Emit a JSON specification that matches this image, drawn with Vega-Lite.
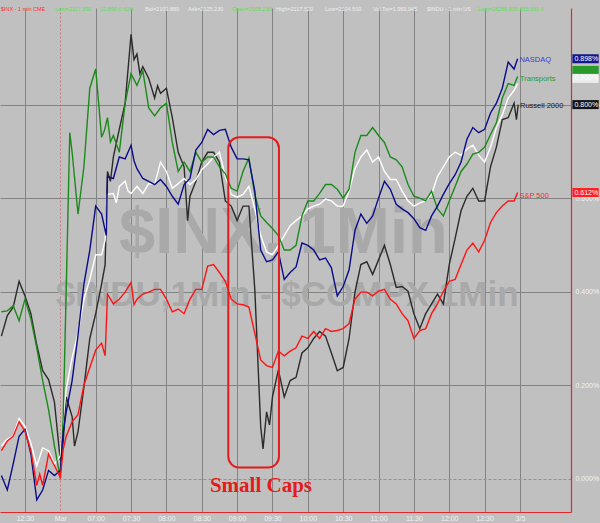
{
"$schema": "https://vega.github.io/schema/vega-lite/v6.json",
"width": 571, "height": 504,
"autosize": {"type": "none"},
"padding": {"left": 0, "top": 8, "right": 29, "bottom": 11},
"background": "#c0c0c0",
"config": {"view": {"stroke": null}, "font": "Liberation Sans"},
"resolve": {"scale": {"color": "independent"}},
"datasets": {
"series": [
{"s":"Russell 2000","t":-20,"v":0.305},{"s":"Russell 2000","t":-15,"v":0.349},{"s":"Russell 2000","t":-10,"v":0.367},{"s":"Russell 2000","t":-5,"v":0.422},{"s":"Russell 2000","t":0,"v":0.391},{"s":"Russell 2000","t":5,"v":0.353},{"s":"Russell 2000","t":10,"v":0.286},{"s":"Russell 2000","t":15,"v":0.231},{"s":"Russell 2000","t":20,"v":0.212},{"s":"Russell 2000","t":25,"v":0.164},{"s":"Russell 2000","t":30,"v":0.039},{"s":"Russell 2000","t":32.5,"v":0.081},{"s":"Russell 2000","t":35,"v":0.175},{"s":"Russell 2000","t":40,"v":0.133},{"s":"Russell 2000","t":42,"v":0.070},{"s":"Russell 2000","t":45,"v":0.101},{"s":"Russell 2000","t":50,"v":0.196},{"s":"Russell 2000","t":55,"v":0.300},{"s":"Russell 2000","t":60,"v":0.353},{"s":"Russell 2000","t":65,"v":0.416},{"s":"Russell 2000","t":68,"v":0.458},{"s":"Russell 2000","t":70,"v":0.657},{"s":"Russell 2000","t":72.5,"v":0.636},{"s":"Russell 2000","t":75,"v":0.688},{"s":"Russell 2000","t":80,"v":0.747},{"s":"Russell 2000","t":85,"v":0.803},{"s":"Russell 2000","t":90,"v":0.950},{"s":"Russell 2000","t":92.5,"v":0.896},{"s":"Russell 2000","t":95,"v":0.908},{"s":"Russell 2000","t":97.5,"v":0.866},{"s":"Russell 2000","t":100,"v":0.881},{"s":"Russell 2000","t":105,"v":0.856},{"s":"Russell 2000","t":110,"v":0.814},{"s":"Russell 2000","t":112.5,"v":0.840},{"s":"Russell 2000","t":115,"v":0.824},{"s":"Russell 2000","t":120,"v":0.835},{"s":"Russell 2000","t":125,"v":0.772},{"s":"Russell 2000","t":130,"v":0.698},{"s":"Russell 2000","t":135,"v":0.667},{"s":"Russell 2000","t":138,"v":0.552},{"s":"Russell 2000","t":140,"v":0.604},{"s":"Russell 2000","t":145,"v":0.636},{"s":"Russell 2000","t":150,"v":0.677},{"s":"Russell 2000","t":155,"v":0.698},{"s":"Russell 2000","t":160,"v":0.698},{"s":"Russell 2000","t":165,"v":0.677},{"s":"Russell 2000","t":170,"v":0.594},{"s":"Russell 2000","t":175,"v":0.583},{"s":"Russell 2000","t":180,"v":0.552},{"s":"Russell 2000","t":185,"v":0.583},{"s":"Russell 2000","t":190,"v":0.583},{"s":"Russell 2000","t":195,"v":0.405},{"s":"Russell 2000","t":200,"v":0.112},{"s":"Russell 2000","t":202,"v":0.064},{"s":"Russell 2000","t":205,"v":0.143},{"s":"Russell 2000","t":207.5,"v":0.115},{"s":"Russell 2000","t":210,"v":0.175},{"s":"Russell 2000","t":215,"v":0.233},{"s":"Russell 2000","t":220,"v":0.175},{"s":"Russell 2000","t":225,"v":0.210},{"s":"Russell 2000","t":230,"v":0.217},{"s":"Russell 2000","t":235,"v":0.269},{"s":"Russell 2000","t":240,"v":0.280},{"s":"Russell 2000","t":245,"v":0.300},{"s":"Russell 2000","t":250,"v":0.315},{"s":"Russell 2000","t":255,"v":0.305},{"s":"Russell 2000","t":260,"v":0.269},{"s":"Russell 2000","t":265,"v":0.231},{"s":"Russell 2000","t":270,"v":0.238},{"s":"Russell 2000","t":275,"v":0.300},{"s":"Russell 2000","t":280,"v":0.399},{"s":"Russell 2000","t":285,"v":0.458},{"s":"Russell 2000","t":290,"v":0.464},{"s":"Russell 2000","t":295,"v":0.437},{"s":"Russell 2000","t":300,"v":0.468},{"s":"Russell 2000","t":305,"v":0.499},{"s":"Russell 2000","t":310,"v":0.458},{"s":"Russell 2000","t":315,"v":0.409},{"s":"Russell 2000","t":320,"v":0.411},{"s":"Russell 2000","t":325,"v":0.401},{"s":"Russell 2000","t":330,"v":0.353},{"s":"Russell 2000","t":335,"v":0.321},{"s":"Russell 2000","t":340,"v":0.353},{"s":"Russell 2000","t":345,"v":0.374},{"s":"Russell 2000","t":350,"v":0.395},{"s":"Russell 2000","t":355,"v":0.374},{"s":"Russell 2000","t":360,"v":0.458},{"s":"Russell 2000","t":365,"v":0.514},{"s":"Russell 2000","t":370,"v":0.573},{"s":"Russell 2000","t":375,"v":0.604},{"s":"Russell 2000","t":380,"v":0.621},{"s":"Russell 2000","t":385,"v":0.594},{"s":"Russell 2000","t":390,"v":0.594},{"s":"Russell 2000","t":395,"v":0.667},{"s":"Russell 2000","t":400,"v":0.709},{"s":"Russell 2000","t":405,"v":0.768},{"s":"Russell 2000","t":410,"v":0.772},{"s":"Russell 2000","t":415,"v":0.803},{"s":"Russell 2000","t":417,"v":0.768},{"s":"Russell 2000","t":418.5,"v":0.800},
{"s":"Dow","t":-20,"v":0.070},{"s":"Dow","t":-15,"v":0.085},{"s":"Dow","t":-10,"v":0.091},{"s":"Dow","t":-5,"v":0.129},{"s":"Dow","t":0,"v":0.112},{"s":"Dow","t":5,"v":0.076},{"s":"Dow","t":10,"v":0.028},{"s":"Dow","t":15,"v":0.066},{"s":"Dow","t":20,"v":0.060},{"s":"Dow","t":25,"v":0.032},{"s":"Dow","t":30,"v":0.049},{"s":"Dow","t":32.5,"v":0.133},{"s":"Dow","t":35,"v":0.192},{"s":"Dow","t":40,"v":0.259},{"s":"Dow","t":45,"v":0.311},{"s":"Dow","t":50,"v":0.384},{"s":"Dow","t":55,"v":0.426},{"s":"Dow","t":60,"v":0.479},{"s":"Dow","t":65,"v":0.479},{"s":"Dow","t":68,"v":0.510},{"s":"Dow","t":70,"v":0.608},{"s":"Dow","t":75,"v":0.610},{"s":"Dow","t":77.5,"v":0.590},{"s":"Dow","t":80,"v":0.625},{"s":"Dow","t":85,"v":0.636},{"s":"Dow","t":87.5,"v":0.615},{"s":"Dow","t":90,"v":0.610},{"s":"Dow","t":95,"v":0.625},{"s":"Dow","t":100,"v":0.610},{"s":"Dow","t":105,"v":0.631},{"s":"Dow","t":110,"v":0.629},{"s":"Dow","t":115,"v":0.677},{"s":"Dow","t":120,"v":0.657},{"s":"Dow","t":125,"v":0.621},{"s":"Dow","t":130,"v":0.631},{"s":"Dow","t":135,"v":0.642},{"s":"Dow","t":140,"v":0.629},{"s":"Dow","t":145,"v":0.640},{"s":"Dow","t":150,"v":0.661},{"s":"Dow","t":155,"v":0.673},{"s":"Dow","t":160,"v":0.688},{"s":"Dow","t":165,"v":0.698},{"s":"Dow","t":170,"v":0.646},{"s":"Dow","t":175,"v":0.608},{"s":"Dow","t":180,"v":0.602},{"s":"Dow","t":185,"v":0.608},{"s":"Dow","t":190,"v":0.625},{"s":"Dow","t":195,"v":0.577},{"s":"Dow","t":200,"v":0.520},{"s":"Dow","t":205,"v":0.485},{"s":"Dow","t":210,"v":0.479},{"s":"Dow","t":215,"v":0.499},{"s":"Dow","t":220,"v":0.520},{"s":"Dow","t":225,"v":0.541},{"s":"Dow","t":230,"v":0.552},{"s":"Dow","t":235,"v":0.562},{"s":"Dow","t":240,"v":0.577},{"s":"Dow","t":245,"v":0.583},{"s":"Dow","t":250,"v":0.587},{"s":"Dow","t":255,"v":0.598},{"s":"Dow","t":260,"v":0.594},{"s":"Dow","t":265,"v":0.583},{"s":"Dow","t":270,"v":0.583},{"s":"Dow","t":275,"v":0.615},{"s":"Dow","t":280,"v":0.663},{"s":"Dow","t":285,"v":0.688},{"s":"Dow","t":290,"v":0.703},{"s":"Dow","t":295,"v":0.677},{"s":"Dow","t":300,"v":0.688},{"s":"Dow","t":305,"v":0.657},{"s":"Dow","t":310,"v":0.640},{"s":"Dow","t":315,"v":0.640},{"s":"Dow","t":320,"v":0.615},{"s":"Dow","t":325,"v":0.594},{"s":"Dow","t":330,"v":0.583},{"s":"Dow","t":335,"v":0.590},{"s":"Dow","t":340,"v":0.594},{"s":"Dow","t":345,"v":0.608},{"s":"Dow","t":350,"v":0.646},{"s":"Dow","t":355,"v":0.667},{"s":"Dow","t":360,"v":0.688},{"s":"Dow","t":365,"v":0.698},{"s":"Dow","t":370,"v":0.692},{"s":"Dow","t":375,"v":0.705},{"s":"Dow","t":380,"v":0.713},{"s":"Dow","t":385,"v":0.692},{"s":"Dow","t":390,"v":0.677},{"s":"Dow","t":395,"v":0.709},{"s":"Dow","t":400,"v":0.751},{"s":"Dow","t":405,"v":0.778},{"s":"Dow","t":410,"v":0.814},{"s":"Dow","t":415,"v":0.830},{"s":"Dow","t":418,"v":0.845},
{"s":"Transports","t":-20,"v":0.357},{"s":"Transports","t":-15,"v":0.359},{"s":"Transports","t":-10,"v":0.370},{"s":"Transports","t":-5,"v":0.338},{"s":"Transports","t":0,"v":0.384},{"s":"Transports","t":5,"v":0.342},{"s":"Transports","t":10,"v":0.280},{"s":"Transports","t":15,"v":0.210},{"s":"Transports","t":20,"v":0.148},{"s":"Transports","t":25,"v":0.070},{"s":"Transports","t":30,"v":0.001},{"s":"Transports","t":32.5,"v":0.139},{"s":"Transports","t":35,"v":0.405},{"s":"Transports","t":38,"v":0.740},{"s":"Transports","t":40,"v":0.698},{"s":"Transports","t":45,"v":0.566},{"s":"Transports","t":50,"v":0.667},{"s":"Transports","t":55,"v":0.835},{"s":"Transports","t":60,"v":0.876},{"s":"Transports","t":65,"v":0.730},{"s":"Transports","t":67.5,"v":0.745},{"s":"Transports","t":70,"v":0.772},{"s":"Transports","t":72.5,"v":0.720},{"s":"Transports","t":75,"v":0.734},{"s":"Transports","t":80,"v":0.698},{"s":"Transports","t":85,"v":0.803},{"s":"Transports","t":90,"v":0.866},{"s":"Transports","t":95,"v":0.841},{"s":"Transports","t":100,"v":0.872},{"s":"Transports","t":105,"v":0.793},{"s":"Transports","t":110,"v":0.776},{"s":"Transports","t":115,"v":0.793},{"s":"Transports","t":120,"v":0.803},{"s":"Transports","t":125,"v":0.719},{"s":"Transports","t":130,"v":0.657},{"s":"Transports","t":135,"v":0.677},{"s":"Transports","t":140,"v":0.657},{"s":"Transports","t":145,"v":0.698},{"s":"Transports","t":150,"v":0.677},{"s":"Transports","t":155,"v":0.688},{"s":"Transports","t":160,"v":0.688},{"s":"Transports","t":165,"v":0.667},{"s":"Transports","t":170,"v":0.652},{"s":"Transports","t":175,"v":0.621},{"s":"Transports","t":180,"v":0.615},{"s":"Transports","t":185,"v":0.657},{"s":"Transports","t":190,"v":0.686},{"s":"Transports","t":195,"v":0.608},{"s":"Transports","t":200,"v":0.562},{"s":"Transports","t":205,"v":0.548},{"s":"Transports","t":210,"v":0.535},{"s":"Transports","t":215,"v":0.520},{"s":"Transports","t":220,"v":0.489},{"s":"Transports","t":225,"v":0.489},{"s":"Transports","t":230,"v":0.499},{"s":"Transports","t":235,"v":0.562},{"s":"Transports","t":240,"v":0.594},{"s":"Transports","t":245,"v":0.594},{"s":"Transports","t":250,"v":0.610},{"s":"Transports","t":255,"v":0.629},{"s":"Transports","t":260,"v":0.629},{"s":"Transports","t":265,"v":0.619},{"s":"Transports","t":270,"v":0.600},{"s":"Transports","t":275,"v":0.619},{"s":"Transports","t":280,"v":0.698},{"s":"Transports","t":285,"v":0.734},{"s":"Transports","t":290,"v":0.734},{"s":"Transports","t":295,"v":0.751},{"s":"Transports","t":300,"v":0.734},{"s":"Transports","t":305,"v":0.719},{"s":"Transports","t":310,"v":0.688},{"s":"Transports","t":315,"v":0.682},{"s":"Transports","t":320,"v":0.667},{"s":"Transports","t":325,"v":0.629},{"s":"Transports","t":330,"v":0.604},{"s":"Transports","t":335,"v":0.600},{"s":"Transports","t":340,"v":0.594},{"s":"Transports","t":345,"v":0.615},{"s":"Transports","t":350,"v":0.577},{"s":"Transports","t":355,"v":0.562},{"s":"Transports","t":360,"v":0.594},{"s":"Transports","t":365,"v":0.625},{"s":"Transports","t":370,"v":0.657},{"s":"Transports","t":375,"v":0.673},{"s":"Transports","t":380,"v":0.694},{"s":"Transports","t":385,"v":0.698},{"s":"Transports","t":390,"v":0.709},{"s":"Transports","t":395,"v":0.736},{"s":"Transports","t":400,"v":0.761},{"s":"Transports","t":405,"v":0.814},{"s":"Transports","t":410,"v":0.845},{"s":"Transports","t":415,"v":0.841},{"s":"Transports","t":418,"v":0.860},
{"s":"NASDAQ","t":-20,"v":0.007},{"s":"NASDAQ","t":-15,"v":-0.024},{"s":"NASDAQ","t":-10,"v":0.032},{"s":"NASDAQ","t":-5,"v":0.091},{"s":"NASDAQ","t":0,"v":0.106},{"s":"NASDAQ","t":5,"v":0.053},{"s":"NASDAQ","t":10,"v":-0.045},{"s":"NASDAQ","t":15,"v":-0.024},{"s":"NASDAQ","t":20,"v":0.018},{"s":"NASDAQ","t":25,"v":0.007},{"s":"NASDAQ","t":30,"v":0.018},{"s":"NASDAQ","t":32.5,"v":0.101},{"s":"NASDAQ","t":35,"v":0.143},{"s":"NASDAQ","t":40,"v":0.210},{"s":"NASDAQ","t":45,"v":0.307},{"s":"NASDAQ","t":50,"v":0.416},{"s":"NASDAQ","t":55,"v":0.489},{"s":"NASDAQ","t":60,"v":0.583},{"s":"NASDAQ","t":65,"v":0.566},{"s":"NASDAQ","t":69,"v":0.520},{"s":"NASDAQ","t":70,"v":0.646},{"s":"NASDAQ","t":75,"v":0.642},{"s":"NASDAQ","t":80,"v":0.688},{"s":"NASDAQ","t":85,"v":0.684},{"s":"NASDAQ","t":90,"v":0.713},{"s":"NASDAQ","t":92.5,"v":0.680},{"s":"NASDAQ","t":95,"v":0.663},{"s":"NASDAQ","t":100,"v":0.642},{"s":"NASDAQ","t":105,"v":0.636},{"s":"NASDAQ","t":110,"v":0.629},{"s":"NASDAQ","t":115,"v":0.640},{"s":"NASDAQ","t":120,"v":0.625},{"s":"NASDAQ","t":125,"v":0.604},{"s":"NASDAQ","t":130,"v":0.587},{"s":"NASDAQ","t":135,"v":0.629},{"s":"NASDAQ","t":140,"v":0.642},{"s":"NASDAQ","t":145,"v":0.703},{"s":"NASDAQ","t":150,"v":0.719},{"s":"NASDAQ","t":155,"v":0.747},{"s":"NASDAQ","t":160,"v":0.736},{"s":"NASDAQ","t":165,"v":0.745},{"s":"NASDAQ","t":170,"v":0.747},{"s":"NASDAQ","t":175,"v":0.709},{"s":"NASDAQ","t":180,"v":0.684},{"s":"NASDAQ","t":185,"v":0.684},{"s":"NASDAQ","t":190,"v":0.682},{"s":"NASDAQ","t":195,"v":0.615},{"s":"NASDAQ","t":200,"v":0.489},{"s":"NASDAQ","t":205,"v":0.464},{"s":"NASDAQ","t":210,"v":0.468},{"s":"NASDAQ","t":215,"v":0.485},{"s":"NASDAQ","t":220,"v":0.426},{"s":"NASDAQ","t":225,"v":0.441},{"s":"NASDAQ","t":230,"v":0.453},{"s":"NASDAQ","t":235,"v":0.504},{"s":"NASDAQ","t":240,"v":0.499},{"s":"NASDAQ","t":245,"v":0.489},{"s":"NASDAQ","t":250,"v":0.468},{"s":"NASDAQ","t":255,"v":0.472},{"s":"NASDAQ","t":260,"v":0.451},{"s":"NASDAQ","t":265,"v":0.391},{"s":"NASDAQ","t":270,"v":0.411},{"s":"NASDAQ","t":275,"v":0.447},{"s":"NASDAQ","t":280,"v":0.531},{"s":"NASDAQ","t":285,"v":0.566},{"s":"NASDAQ","t":290,"v":0.546},{"s":"NASDAQ","t":295,"v":0.562},{"s":"NASDAQ","t":300,"v":0.600},{"s":"NASDAQ","t":305,"v":0.636},{"s":"NASDAQ","t":310,"v":0.619},{"s":"NASDAQ","t":315,"v":0.587},{"s":"NASDAQ","t":320,"v":0.577},{"s":"NASDAQ","t":325,"v":0.569},{"s":"NASDAQ","t":330,"v":0.556},{"s":"NASDAQ","t":335,"v":0.537},{"s":"NASDAQ","t":340,"v":0.531},{"s":"NASDAQ","t":345,"v":0.562},{"s":"NASDAQ","t":350,"v":0.583},{"s":"NASDAQ","t":355,"v":0.608},{"s":"NASDAQ","t":360,"v":0.631},{"s":"NASDAQ","t":365,"v":0.650},{"s":"NASDAQ","t":370,"v":0.677},{"s":"NASDAQ","t":375,"v":0.726},{"s":"NASDAQ","t":380,"v":0.751},{"s":"NASDAQ","t":385,"v":0.740},{"s":"NASDAQ","t":390,"v":0.747},{"s":"NASDAQ","t":395,"v":0.782},{"s":"NASDAQ","t":400,"v":0.803},{"s":"NASDAQ","t":405,"v":0.835},{"s":"NASDAQ","t":410,"v":0.891},{"s":"NASDAQ","t":415,"v":0.876},{"s":"NASDAQ","t":418,"v":0.898},
{"s":"S&P 500","t":-20,"v":0.060},{"s":"S&P 500","t":-15,"v":0.081},{"s":"S&P 500","t":-10,"v":0.091},{"s":"S&P 500","t":-5,"v":0.122},{"s":"S&P 500","t":0,"v":0.101},{"s":"S&P 500","t":5,"v":0.060},{"s":"S&P 500","t":10,"v":-0.014},{"s":"S&P 500","t":12.5,"v":0.010},{"s":"S&P 500","t":15,"v":-0.014},{"s":"S&P 500","t":20,"v":0.053},{"s":"S&P 500","t":25,"v":0.028},{"s":"S&P 500","t":30,"v":0.003},{"s":"S&P 500","t":32.5,"v":0.064},{"s":"S&P 500","t":35,"v":0.091},{"s":"S&P 500","t":40,"v":0.122},{"s":"S&P 500","t":45,"v":0.137},{"s":"S&P 500","t":50,"v":0.200},{"s":"S&P 500","t":55,"v":0.238},{"s":"S&P 500","t":60,"v":0.275},{"s":"S&P 500","t":65,"v":0.290},{"s":"S&P 500","t":68,"v":0.263},{"s":"S&P 500","t":70,"v":0.395},{"s":"S&P 500","t":75,"v":0.374},{"s":"S&P 500","t":80,"v":0.384},{"s":"S&P 500","t":85,"v":0.399},{"s":"S&P 500","t":90,"v":0.420},{"s":"S&P 500","t":92.5,"v":0.372},{"s":"S&P 500","t":95,"v":0.384},{"s":"S&P 500","t":100,"v":0.395},{"s":"S&P 500","t":105,"v":0.399},{"s":"S&P 500","t":110,"v":0.405},{"s":"S&P 500","t":115,"v":0.405},{"s":"S&P 500","t":120,"v":0.384},{"s":"S&P 500","t":125,"v":0.357},{"s":"S&P 500","t":130,"v":0.363},{"s":"S&P 500","t":135,"v":0.353},{"s":"S&P 500","t":140,"v":0.384},{"s":"S&P 500","t":145,"v":0.405},{"s":"S&P 500","t":150,"v":0.405},{"s":"S&P 500","t":155,"v":0.455},{"s":"S&P 500","t":160,"v":0.458},{"s":"S&P 500","t":165,"v":0.441},{"s":"S&P 500","t":170,"v":0.422},{"s":"S&P 500","t":175,"v":0.384},{"s":"S&P 500","t":180,"v":0.374},{"s":"S&P 500","t":185,"v":0.372},{"s":"S&P 500","t":190,"v":0.367},{"s":"S&P 500","t":195,"v":0.311},{"s":"S&P 500","t":200,"v":0.254},{"s":"S&P 500","t":205,"v":0.242},{"s":"S&P 500","t":210,"v":0.238},{"s":"S&P 500","t":215,"v":0.273},{"s":"S&P 500","t":220,"v":0.263},{"s":"S&P 500","t":225,"v":0.273},{"s":"S&P 500","t":230,"v":0.280},{"s":"S&P 500","t":235,"v":0.305},{"s":"S&P 500","t":240,"v":0.300},{"s":"S&P 500","t":245,"v":0.315},{"s":"S&P 500","t":250,"v":0.300},{"s":"S&P 500","t":255,"v":0.321},{"s":"S&P 500","t":260,"v":0.315},{"s":"S&P 500","t":265,"v":0.317},{"s":"S&P 500","t":270,"v":0.321},{"s":"S&P 500","t":275,"v":0.332},{"s":"S&P 500","t":280,"v":0.384},{"s":"S&P 500","t":285,"v":0.399},{"s":"S&P 500","t":290,"v":0.399},{"s":"S&P 500","t":295,"v":0.391},{"s":"S&P 500","t":300,"v":0.401},{"s":"S&P 500","t":305,"v":0.405},{"s":"S&P 500","t":310,"v":0.384},{"s":"S&P 500","t":315,"v":0.374},{"s":"S&P 500","t":320,"v":0.353},{"s":"S&P 500","t":325,"v":0.338},{"s":"S&P 500","t":330,"v":0.300},{"s":"S&P 500","t":335,"v":0.317},{"s":"S&P 500","t":340,"v":0.321},{"s":"S&P 500","t":345,"v":0.353},{"s":"S&P 500","t":350,"v":0.374},{"s":"S&P 500","t":355,"v":0.401},{"s":"S&P 500","t":360,"v":0.422},{"s":"S&P 500","t":365,"v":0.426},{"s":"S&P 500","t":370,"v":0.458},{"s":"S&P 500","t":375,"v":0.489},{"s":"S&P 500","t":380,"v":0.504},{"s":"S&P 500","t":385,"v":0.485},{"s":"S&P 500","t":390,"v":0.510},{"s":"S&P 500","t":395,"v":0.548},{"s":"S&P 500","t":400,"v":0.569},{"s":"S&P 500","t":405,"v":0.583},{"s":"S&P 500","t":410,"v":0.594},{"s":"S&P 500","t":415,"v":0.594},{"s":"S&P 500","t":418,"v":0.612}
],
"labels": [
{"s":"NASDAQ","t":419.5,"v":0.895},
{"s":"Transports","t":420,"v":0.855},
{"s":"Russell 2000","t":420,"v":0.797},
{"s":"S&P 500","t":419.5,"v":0.604}
],
"boxes": [
{"s":"NASDAQ","t":464.5,"t2":486.8,"v":0.898,"txt":"0.898%"},
{"s":"Transports","t":464.5,"t2":486.8,"v":0.873,"txt":""},
{"s":"Dow","t":464.5,"t2":486.8,"v":0.856,"txt":"0.900%"},
{"s":"Russell 2000","t":464.5,"t2":486.8,"v":0.800,"txt":"0.800%"},
{"s":"S&P 500","t":464.5,"t2":486.8,"v":0.612,"txt":"0.612%"}
],
"header": [
{"txt":"$INX - 1 min CME","t":-20.4,"v":1.004,"kind":"sym"},
{"txt":"Last=2117.390","t":25.5,"v":1.004,"kind":"up"},
{"txt":"12.890 0.61%","t":63.6,"v":1.004,"kind":"up"},
{"txt":"Bid=2109.880","t":101.8,"v":1.004,"kind":"info"},
{"txt":"Ask=2125.230","t":138.3,"v":1.004,"kind":"info"},
{"txt":"Open=2105.230","t":175.6,"v":1.004,"kind":"up"},
{"txt":"High=2117.520","t":213.0,"v":1.004,"kind":"info"},
{"txt":"Low=2104.500","t":254.6,"v":1.004,"kind":"info"},
{"txt":"Vol Tot=1,969,945","t":295.3,"v":1.004,"kind":"info"},
{"txt":"$INDU - 1 min US","t":341.1,"v":1.004,"kind":"info"},
{"txt":"Last=18288.930","t":384.4,"v":1.004,"kind":"up"},
{"txt":"155.931 0","t":419.2,"v":1.004,"kind":"up"}
]
},
"encoding": {
"x": {"field": "t", "type": "quantitative",
 "scale": {"domain": [-21.2, 463.3], "nice": false, "zero": false},
 "axis": {"orient": "bottom", "title": null, "values": [0,30,60,90,120,150,180,210,240,270,300,330,360,390,420],
  "labelExpr": "['12:30','Mar','07:00','07:30','08:00','08:30','09:00','09:30','10:00','10:30','11:00','11:30','12:00','12:30','3/5'][round(datum.value/30)]",
  "grid": true,
  "gridColor": {"condition": {"test": "datum.value == 30", "value": "#c87878"}, "value": "#838383"},
  "gridDash": {"condition": {"test": "datum.value == 30", "value": [2,2]}, "value": []},
  "gridWidth": 1, "ticks": false, "domainColor": "#e0282c", "domainWidth": 1.2,
  "labelColor": "#f2f2f2", "labelFontSize": 7, "labelPadding": 2, "labelFlush": false, "labelOverlap": false}},
"y": {"field": "v", "type": "quantitative",
 "scale": {"domain": [-0.0603, 0.9958], "nice": false, "zero": false},
 "axis": {"orient": "right", "title": null, "values": [0,0.2,0.4,0.6,0.8],
  "labelExpr": "format(datum.value, '.3f') + '%'",
  "grid": true,
  "gridColor": {"condition": {"test": "datum.value == 0", "value": "#c87878"}, "value": "#838383"},
  "gridDash": {"condition": {"test": "datum.value == 0", "value": [3,2]}, "value": []},
  "ticks": false, "domainColor": "#e0282c", "domainWidth": 1.2,
  "labelColor": "#f2f2f2", "labelFontSize": 7, "labelPadding": 4}}
},
"layer": [
{"data": {"values": [{"t": 219.3, "v": 0.4826, "txt": "$INX, 1Min"}]},
 "mark": {"type": "text", "fontSize": 65, "fontWeight": "bold", "color": "#a9a9a9", "align": "center", "baseline": "alphabetic", "font": "Liberation Sans"},
 "encoding": {"text": {"field": "txt"}}},
{"data": {"values": [{"t": 222.5, "v": 0.3695, "txt": "$INDU,1Min - $COMPX,1Min"}]},
 "mark": {"type": "text", "fontSize": 35, "fontWeight": "bold", "color": "#a9a9a9", "align": "center", "baseline": "alphabetic", "font": "Liberation Sans"},
 "encoding": {"text": {"field": "txt"}}},
{"data": {"name": "series"},
 "mark": {"type": "line", "strokeWidth": 1.4},
 "encoding": {"color": {"field": "s", "type": "nominal",
  "scale": {"domain": ["Russell 2000","Dow","Transports","NASDAQ","S&P 500"], "range": ["#2b2b2b","#ffffff","#1b8a1b","#0c0c88","#ff1414"]},
  "legend": null}}},
{"data": {"values": [{"t": 172.5, "t2": 215.5, "v": 0.730, "v2": 0.024}]},
 "mark": {"type": "rect", "fillOpacity": 0, "fill": "#ffffff", "stroke": "#e41b1b", "strokeWidth": 2, "cornerRadius": 11},
 "encoding": {"x2": {"field": "t2"}, "y2": {"field": "v2"}}},
{"data": {"values": [{"t": 200.2, "v": -0.0285, "txt": "Small Caps"}]},
 "mark": {"type": "text", "font": "Liberation Serif", "fontSize": 21, "fontWeight": "bold", "color": "#e41b1b", "align": "center", "baseline": "alphabetic"},
 "encoding": {"text": {"field": "txt"}}},
{"data": {"name": "labels"},
 "mark": {"type": "text", "fontSize": 7.5, "align": "left", "baseline": "middle"},
 "encoding": {"text": {"field": "s"},
  "color": {"field": "s", "type": "nominal", "scale": {"domain": ["NASDAQ","Transports","Russell 2000","S&P 500"], "range": ["#3a3ad0","#2a9a2a","#1a1a1a","#ff2a2a"]}, "legend": null}}},
{"data": {"name": "boxes"},
 "mark": {"type": "bar", "orient": "horizontal", "size": 9, "clip": false},
 "encoding": {"x2": {"field": "t2"},
  "color": {"field": "s", "type": "nominal", "scale": {"domain": ["NASDAQ","Transports","Dow","Russell 2000","S&P 500"], "range": ["#16168a","#2a9a2a","#ececec","#141414","#ff2020"]}, "legend": null}}},
{"data": {"name": "boxes"},
 "mark": {"type": "text", "align": "left", "baseline": "middle", "fontSize": 7, "color": "#ffffff", "dx": 2, "clip": false},
 "encoding": {"text": {"field": "txt"}}},
{"data": {"name": "header"},
 "mark": {"type": "text", "align": "left", "baseline": "middle", "fontSize": 5.5, "clip": false},
 "encoding": {"text": {"field": "txt"},
  "color": {"field": "kind", "type": "nominal", "scale": {"domain": ["sym","up","info"], "range": ["#ff3030","#55e055","#eeeeee"]}, "legend": null}}}
]
}
